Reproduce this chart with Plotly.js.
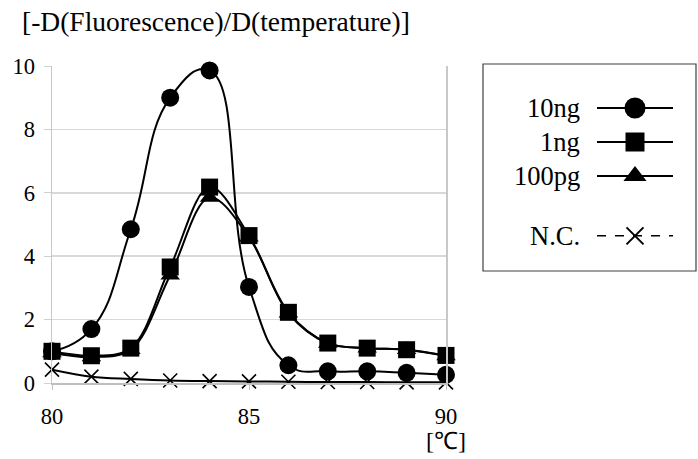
<!DOCTYPE html>
<html>
<head>
<meta charset="utf-8">
<script src="https://cdn.plot.ly/plotly-3.0.1.min.js"></script>
<style>
html,body{margin:0;padding:0;background:#fff;}
#chart{width:698px;height:459px;}
</style>
</head>
<body>
<div id="chart"></div>
<script>
// ---- data ----
const temperature = [80, 81, 82, 83, 84, 85, 86, 87, 88, 89, 90];
const ng10  = [1.0, 1.70, 4.85, 9.0, 9.86, 3.03, 0.56, 0.37, 0.37, 0.32, 0.26];
const ng1   = [1.0, 0.86, 1.10, 3.66, 6.18, 4.65, 2.23, 1.26, 1.10, 1.05, 0.87];
const pg100 = [0.95, 0.82, 1.05, 3.40, 5.85, 4.60, 2.20, 1.25, 1.10, 1.05, 0.85];
const nc    = [0.42, 0.20, 0.13, 0.08, 0.06, 0.05, 0.04, 0.03, 0.03, 0.02, 0.02];
const seriesNames = ['10ng', '1ng', '100pg', 'N.C.'];
const legendRows = [0, 1, 2, 3.76];
const xTicks = [80, 85, 90];
const yTicks = [0, 2, 4, 6, 8, 10];
const titleText = '[-D(Fluorescence)/D(temperature)]';
const unitText = '[\u2103]';

const SERIF = 'Liberation Serif';
const seriesY = [ng10, ng1, pg100, nc];
const symbols = ['circle', 'square', 'triangle-up', 'x-thin-open'];
const sizes = [18, 17, 17, 14];
const legSizes = [21, 19, 20, 17];
const smooth = [1.3, 1, 1, 1];
const legDashes = ['solid', 'solid', 'solid', 'dash'];

const traces = [];
// draw N.C. first, then 100pg, 1ng, 10ng on top
[3, 2, 1, 0].forEach(i => {
  traces.push({
    x: temperature, y: seriesY[i], type: 'scatter', mode: 'lines+markers',
    line: {shape: 'spline', smoothing: smooth[i], color: '#000000', width: 2},
    marker: {symbol: symbols[i], size: sizes[i], color: '#000000', opacity: 1,
             line: {color: '#000000', width: i === 3 ? 1.6 : 0}},
    cliponaxis: false, showlegend: false, xaxis: 'x', yaxis: 'y', hoverinfo: 'skip'
  });
});
// custom legend samples (symbol to the right of the text)
seriesNames.forEach((n, i) => {
  traces.push({
    x: [0, 1], y: [legendRows[i], legendRows[i]],
    type: 'scatter', mode: 'lines', xaxis: 'x3', yaxis: 'y3',
    line: {color: '#000000', width: i === 3 ? 1.5 : 2.2, dash: legDashes[i]},
    cliponaxis: false, showlegend: false, hoverinfo: 'skip'
  });
  traces.push({
    x: [0.5], y: [legendRows[i]],
    type: 'scatter', mode: 'markers', xaxis: 'x3', yaxis: 'y3',
    marker: {symbol: symbols[i], size: legSizes[i], color: '#000000', opacity: 1,
             line: {color: '#000000', width: i === 3 ? 2 : 0}},
    cliponaxis: false, showlegend: false, hoverinfo: 'skip'
  });
});

const W = 698, H = 459;
const L = 52, R = 2, T = 40, B = 76;
const pw = W - L - R, ph = H - T - B;
const px = v => (v - L) / pw;
const py = v => (H - B - v) / ph;

const annotations = seriesNames.map((n, i) => ({
  text: n, xref: 'paper', yref: 'y3', x: px(582), y: legendRows[i],
  xanchor: 'right', yanchor: 'middle', showarrow: false,
  font: {family: SERIF, size: 26.5, color: '#000'}
}));
annotations.push({
  text: unitText, xref: 'x', yref: 'paper', x: 90, y: 0,
  xanchor: 'center', yanchor: 'middle', yshift: -58, showarrow: false,
  font: {family: SERIF, size: 24, color: '#000'}
});

const layout = {
  width: W, height: H,
  margin: {l: L, r: R, t: T, b: B},
  paper_bgcolor: '#fff', plot_bgcolor: '#fff',
  title: {text: titleText, xref: 'container', yref: 'container',
          x: 22 / W, xanchor: 'left', y: 1 - 21 / H, yanchor: 'middle',
          font: {family: SERIF, size: 27.5, color: '#000'}},
  xaxis: {domain: [0, px(446)], range: [80, 90], tickvals: xTicks,
          showgrid: false, zeroline: false, showline: true, linecolor: '#bfbfbf', linewidth: 1.5,
          ticks: 'outside', ticklen: 5, tickcolor: '#bfbfbf', ticklabelstandoff: 7,
          tickfont: {family: SERIF, size: 22.5, color: '#000'}},
  yaxis: {domain: [0, py(66)], range: [0, 10], tickvals: yTicks,
          showgrid: true, gridcolor: '#d9d9d9', gridwidth: 1.5, zeroline: false,
          showline: true, linecolor: '#c8c8c8', linewidth: 1.5, mirror: true,
          ticks: 'outside', ticklen: 7, tickcolor: '#d0d0d0', ticklabelstandoff: 4,
          tickfont: {family: SERIF, size: 22.5, color: '#000'}},
  xaxis3: {domain: [px(597), px(673)], range: [0, 1], visible: false, fixedrange: true},
  yaxis3: {domain: [py(271), py(64)], range: [(271 - 108) / 34, (64 - 108) / 34], anchor: 'x3',
           visible: false, fixedrange: true},
  shapes: [{type: 'rect', xref: 'paper', yref: 'paper', layer: 'below',
            x0: px(483), x1: px(696), y0: py(271), y1: py(64),
            line: {color: '#404040', width: 1.2}}],
  annotations: annotations,
  showlegend: false
};

Plotly.newPlot('chart', traces, layout, {displayModeBar: false, staticPlot: true});
</script>
</body>
</html>
